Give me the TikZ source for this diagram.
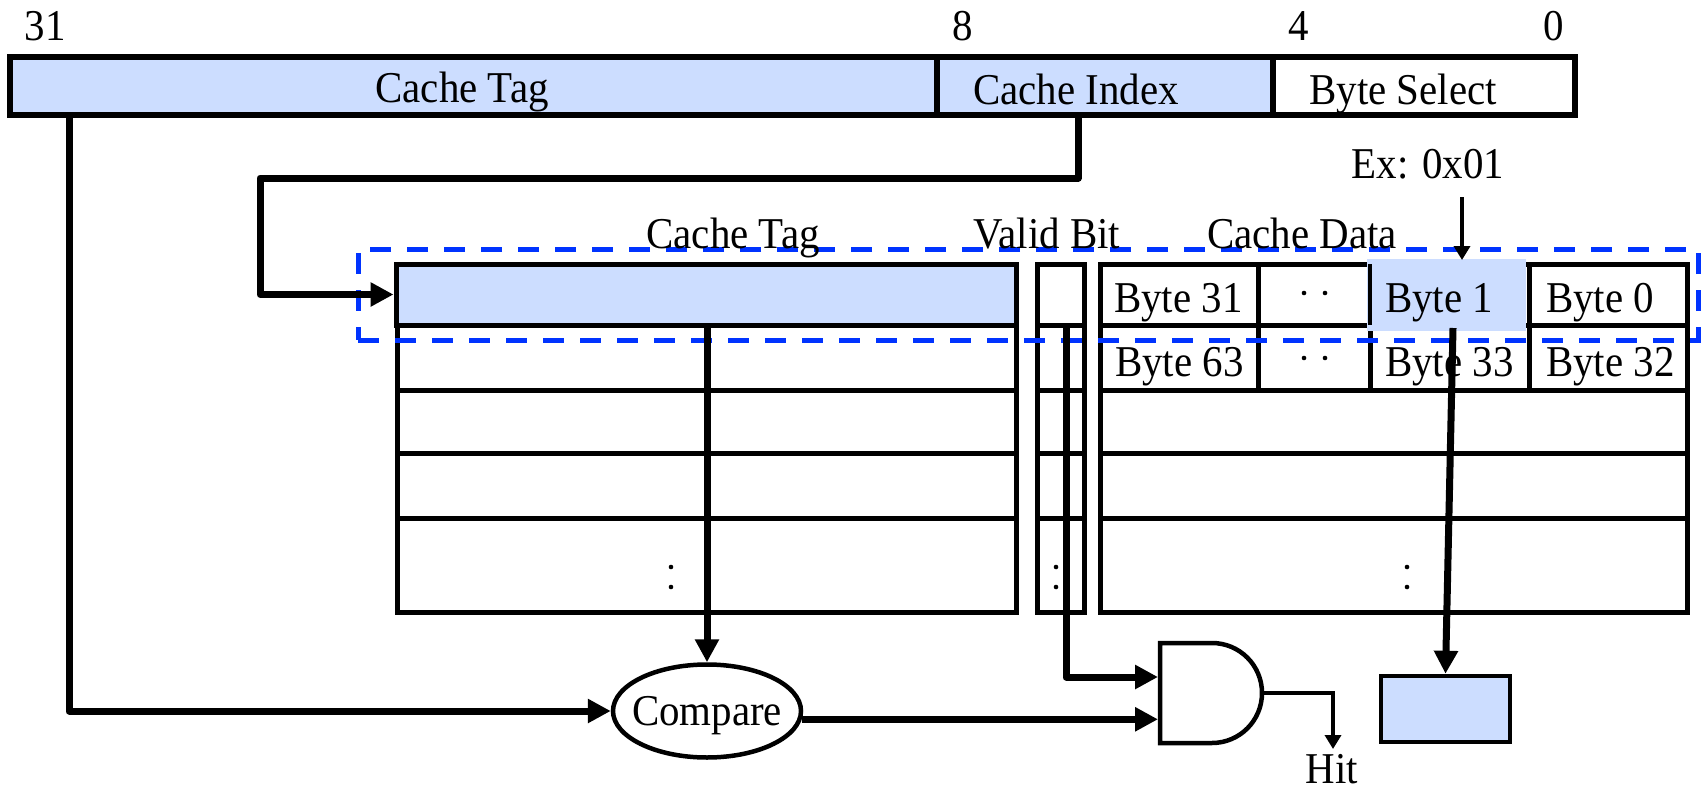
\documentclass[tikz,border=0pt]{standalone}
\usepackage{fontspec}
\setmainfont{Liberation Serif}[FakeStretch=0.93]
\usetikzlibrary{arrows.meta,shapes.geometric}
\definecolor{fieldblue}{RGB}{204,221,255}
\definecolor{rowdash}{RGB}{0,51,255}
\begin{document}
\begin{tikzpicture}[x=1pt,y=-1pt,
  txt/.style={font=\fontsize{44}{50}\selectfont, inner sep=0pt, anchor=base},
  txtl/.style={txt, anchor=base west},
  fieldbox/.style={draw, line width=6pt, minimum height=58pt, inner sep=0pt},
  gridline/.style={line width=5pt},
  conn/.style={line width=7pt, line join=round, -{Triangle[length=23pt,width=23pt]}},
  thinconn/.style={line width=4.5pt, line join=miter, -{Triangle[length=14pt,width=16pt]}},
  blk/.style={draw, line width=4.5pt, inner sep=0pt}
]
\useasboundingbox (0,0) rectangle (1703,795);

% ---- address fields ----
\node[fieldbox, fill=fieldblue, minimum width=927pt] (tagf) at (473.5,86) {};
\node[fieldbox, fill=fieldblue, minimum width=336pt] (idxf) at (1105,86) {};
\node[fieldbox, fill=white, minimum width=302pt] (bsf) at (1424,86) {};
\node[txt] (tagl) at (462,102) {Cache Tag};
\node[txt] (idxl) at (1076,104) {Cache Index};
\node[txt] (bsl) at (1403,104) {Byte Select};
\node[txt] (n31) at (45,40) {31};
\node[txt] (n8) at (963,40) {8};
\node[txt] (n4) at (1299,40) {4};
\node[txt] (n0) at (1554,40) {0};

% ---- tag store ----
\draw[gridline] (397,325) rectangle (1016,612);
\foreach \y in {390,453,518} \draw[gridline] (397,\y) -- (1016,\y);
\node[draw, line width=5pt, fill=fieldblue, minimum width=620pt, minimum height=61pt, inner sep=0pt] (tagrow) at (706,294.5) {};

% ---- valid bits ----
\draw[gridline] (1037,264) rectangle (1084,612);
\foreach \y in {325,390,453,518} \draw[gridline] (1037,\y) -- (1084,\y);
\coordinate (vrow) at (1066,328);

% ---- data store ----
\draw[gridline] (1100,264) rectangle (1687,612);
\foreach \y in {325,390,453,518} \draw[gridline] (1100,\y) -- (1687,\y);
\foreach \x in {1258,1370,1529} \draw[gridline] (\x,264) -- (\x,390);
\fill[fieldblue] (1367,259) rectangle (1526,331);
\draw[line width=4pt] (1370,264) -- (1370,325);
\coordinate (b1top) at (1462,260);
\coordinate (b1bot) at (1453,328);

\node[txtl] (c31) at (1114,312) {Byte 31};
\node[txtl] (c1) at (1385,312) {Byte 1};
\node[txtl] (c0) at (1546,312) {Byte 0};
\node[txtl] (c63) at (1115,376) {Byte 63};
\node[txtl] (c33) at (1385,376) {Byte 33};
\node[txtl] (c32) at (1546,376) {Byte 32};

% elision dots
\foreach \y in {293,358} {
  \fill (1304,\y) circle[radius=2.3pt];
  \fill (1325,\y) circle[radius=2.3pt];
}
\foreach \x in {671,1056,1407} {
  \fill (\x,567) circle[radius=2.3pt];
  \fill (\x,587) circle[radius=2.3pt];
}

% ---- selected set ----
\node[draw=rowdash, line width=5pt, dash pattern=on 21pt off 16pt, minimum width=1340pt, minimum height=91pt, inner sep=0pt] (sel) at (1028,294.5) {};

\node[txt] (hdtag) at (733,248) {Cache Tag};
\node[txt] (hdvalid) at (1047,248) {Valid Bit};
\node[txt] (hddata) at (1302,248) {Cache Data};
\node[txt] (ex) at (1428,178) {Ex: 0x01};
\coordinate (exa) at (1462,197);

% ---- compare, gate and output ----
\node[blk, ellipse, minimum width=188pt, minimum height=93pt] (cmp) at (707,711) {};
\node[txt] (cmpl) at (707,725) {Compare};

\draw[line width=4.5pt, line join=miter] (1160,643) -- (1212,643)
  arc[start angle=90, end angle=-90, radius=50pt] -- (1160,743) -- cycle;
\coordinate (gin1) at (1158,677);
\coordinate (gin2) at (1158,720);
\coordinate (gout) at (1264,693);
\coordinate (hitin) at (1333,749);
\node[txt] (hit) at (1332,783) {Hit};

\node[blk, fill=fieldblue, minimum width=129pt, minimum height=66pt] (dout) at (1445.5,709) {};

% ---- connectors ----
\coordinate (tx) at (69,0);
\draw[conn] (tagf.south -| tx) |- (cmp.west);
\coordinate (ic1) at (1078,178);
\coordinate (ic2) at (260,178);
\draw[conn] (idxf.south -| ic1) -- (ic1) -- (ic2) |- (tagrow.west);
\draw[conn] (tagrow.south -| cmp.north) -- (cmp.north);
\draw[conn] (vrow) |- (gin1);
\draw[conn] (cmp.-5.5) -- (cmp.-5.5 -| gin2);
\draw[thinconn] (gout) -| (hitin);
\draw[thinconn] (exa) -- (b1top);
\draw[conn] (b1bot) -- (dout.north);
\end{tikzpicture}
\end{document}
